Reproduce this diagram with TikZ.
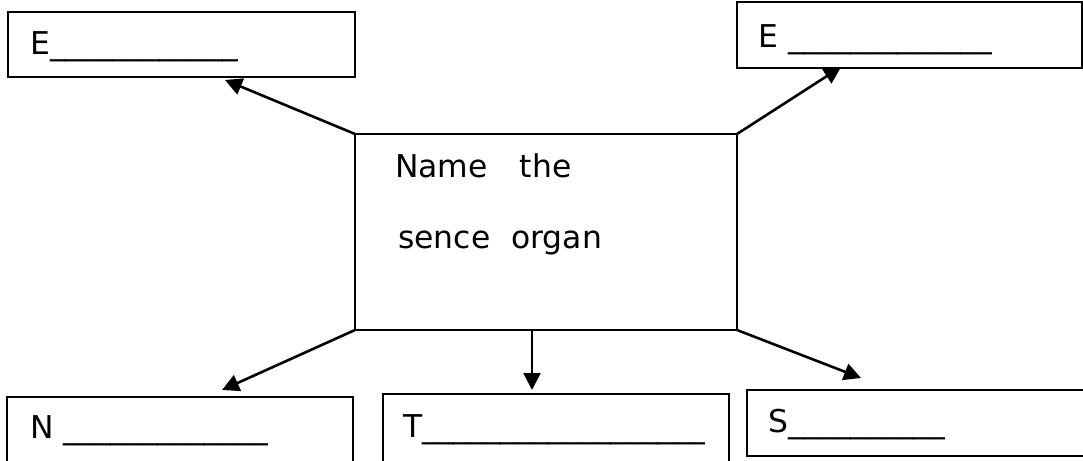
\documentclass[tikz,border=0pt]{standalone}
\usepackage{fontspec}
\setmainfont{DejaVu Sans}
\usetikzlibrary{arrows.meta}
\begin{document}
\begin{tikzpicture}[x=1pt,y=-1pt,
  box/.style={draw,line width=2.6pt,rectangle,inner sep=0pt,outer sep=0pt,anchor=north west},
  lbl/.style={anchor=base west,inner sep=0pt,font=\fontsize{31.4}{38}\selectfont},
  arr/.style={line width=2.6pt,-{Triangle[length=17pt,width=17pt]}}]
\useasboundingbox (0,0) rectangle (1083,460);
\clip (0,0) rectangle (1083,460);
% boxes
\node[box,minimum width=347pt,minimum height=65pt] (tl) at (8,12) {};
\node[box,minimum width=345pt,minimum height=66pt] (tr) at (737,2) {};
\node[box,minimum width=382pt,minimum height=196pt] (c) at (355,134) {};
\node[box,minimum width=346pt,minimum height=90pt] (bl) at (7,397) {};
\node[box,minimum width=346pt,minimum height=90pt] (bm) at (383,394) {};
\node[box,minimum width=360pt,minimum height=66pt] (br) at (747,390) {};
% labels
\node[lbl] (ltl) at (30,55) {E\_\_\_\_\_\_\_\_\_\_\_\_};
\node[lbl] (ltr) at (758,48) {E \_\_\_\_\_\_\_\_\_\_\_\_\_};
\node[lbl] (c1) at (395,177) {Name\hspace{32pt}the};
\node[lbl] (c2) at (398,248) {sence\hspace{21pt}organ};
\node[lbl] (lbl1) at (30,438) {N \_\_\_\_\_\_\_\_\_\_\_\_\_};
\node[lbl] (lbm) at (403,437) {T\_\_\_\_\_\_\_\_\_\_\_\_\_\_\_\_\_\_};
\node[lbl] (lbr) at (768,432) {S\_\_\_\_\_\_\_\_\_\_};
% arrow tips
\coordinate (ttl) at (225,80);
\coordinate (ttr) at (841,67);
\coordinate (tbl) at (222,390);
\coordinate (tbm) at (532,390);
\coordinate (tbr) at (861,378);
\draw[arr] (c.north west) -- (ttl);
\draw[arr] (c.north east) -- (ttr);
\draw[arr] (c.south west) -- (tbl);
\draw[arr] (c.south -| tbm) -- (tbm);
\draw[arr] (c.south east) -- (tbr);
\end{tikzpicture}
\end{document}
